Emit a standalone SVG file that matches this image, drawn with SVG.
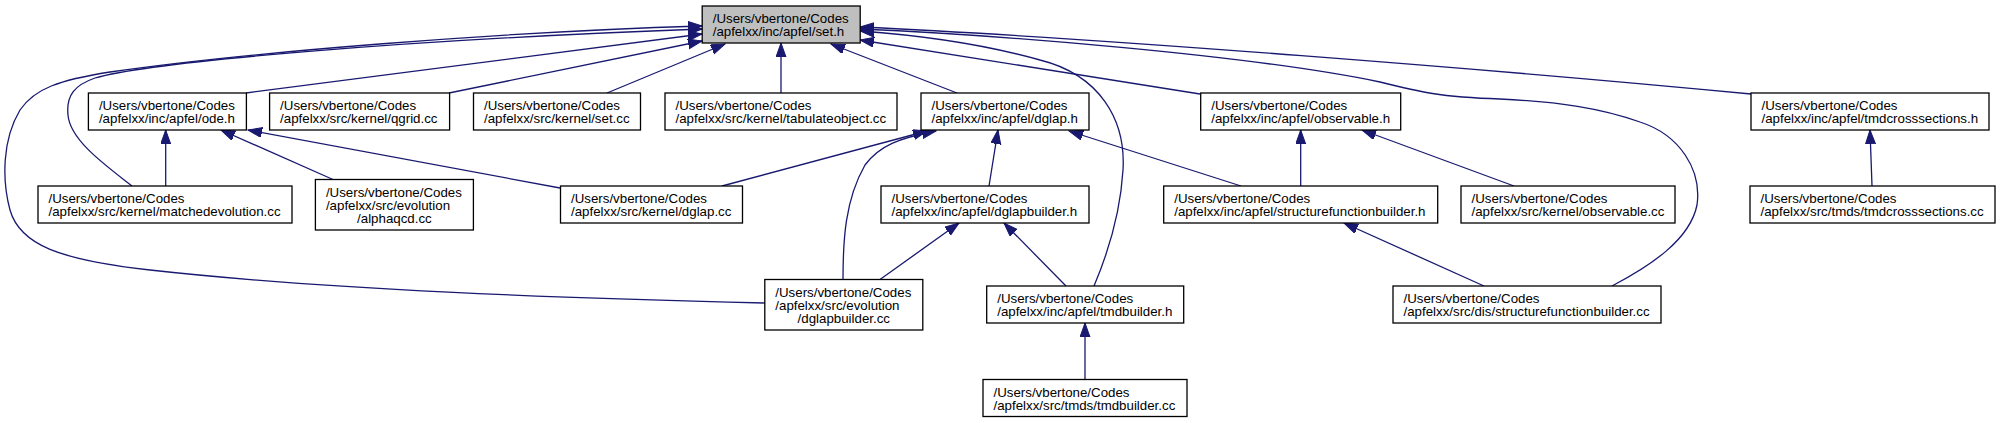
<svg xmlns="http://www.w3.org/2000/svg" width="2002" height="423" viewBox="0 0 2002 423">
<style>
.n rect{fill:#ffffff;stroke:#000000;stroke-width:1.3}
.n.root rect{fill:#bfbfbf}
.n text{font-family:"Liberation Sans",Arial,Helvetica,sans-serif;font-size:13.3px;fill:#000000}
.n text.c{text-anchor:middle}
#edges path{fill:none;stroke:#191970;stroke-width:1.3;marker-end:url(#arr)}
</style>
<defs>
<marker id="arr" markerUnits="userSpaceOnUse" markerWidth="15" markerHeight="11" refX="14" refY="5" orient="auto">
<path d="M0,0 L14,5 L0,10 Z" fill="#191970" stroke="#191970" stroke-width="1"/>
</marker>
</defs>
<rect width="2002" height="423" fill="#ffffff"/>
<g id="edges">
<path d="M246,93 L702,34"/>
<path d="M449,93 L702,41"/>
<path d="M607,93 L725,44"/>
<path d="M781,93 L781,43"/>
<path d="M957,93 L831,44"/>
<path d="M1200,94 L860,40"/>
<path d="M1751,94 C1500,70 1100,38 860,27"/>
<path d="M1612,286 C1650,266 1690,240 1697,205 C1702,170 1680,135 1640,122 C1600,108 1560,102 1500,99 C1440,97 1420,92 1380,82 C1250,55 1000,35 860,29"/>
<path d="M1094,286 C1105,260 1120,220 1123,170 C1126,120 1100,75 1040,60 C990,46 930,36 860,31"/>
<path d="M132,186 C105,165 70,140 68,115 C66,95 75,85 95,78 C150,62 400,40 702,29"/>
<path d="M765,303 C560,298 330,290 150,270 C60,260 20,245 10,210 C2,180 2,140 20,110 C35,88 60,80 110,72 C250,52 500,32 702,26"/>
<path d="M165.7,186 L165.7,130"/>
<path d="M333,179.5 L221,130"/>
<path d="M560,188 L248,130"/>
<path d="M722,186 L927,131"/>
<path d="M843,279.5 C843,240 845,200 865,165 C880,145 900,138 936,131"/>
<path d="M989,186 L998,130"/>
<path d="M1241,186 L1069,131"/>
<path d="M1300.7,186 L1300.7,130"/>
<path d="M1514,186 L1362,130"/>
<path d="M1872,186 L1870,130"/>
<path d="M880,279.5 L959,223"/>
<path d="M1066,286 L1004,223"/>
<path d="M1484,286 L1344,223"/>
<path d="M1085,379.5 L1085,323"/>
</g>
<g id="n_set_h" class="n root"><rect x="702.2" y="6" width="158" height="37"/><text x="712.7" y="23.2">/Users/vbertone/Codes</text><text x="712.7" y="36.2">/apfelxx/inc/apfel/set.h</text></g>
<g id="n_ode_h" class="n"><rect x="88.4" y="93" width="158" height="37"/><text x="98.9" y="110.2">/Users/vbertone/Codes</text><text x="98.9" y="123.2">/apfelxx/inc/apfel/ode.h</text></g>
<g id="n_qgrid_cc" class="n"><rect x="269.6" y="93" width="180" height="37"/><text x="280.1" y="110.2">/Users/vbertone/Codes</text><text x="280.1" y="123.2">/apfelxx/src/kernel/qgrid.cc</text></g>
<g id="n_set_cc" class="n"><rect x="473.5" y="93" width="167" height="37"/><text x="484" y="110.2">/Users/vbertone/Codes</text><text x="484" y="123.2">/apfelxx/src/kernel/set.cc</text></g>
<g id="n_tabulateobject_cc" class="n"><rect x="665" y="93" width="232" height="37"/><text x="675.5" y="110.2">/Users/vbertone/Codes</text><text x="675.5" y="123.2">/apfelxx/src/kernel/tabulateobject.cc</text></g>
<g id="n_dglap_h" class="n"><rect x="921" y="93" width="168" height="37"/><text x="931.5" y="110.2">/Users/vbertone/Codes</text><text x="931.5" y="123.2">/apfelxx/inc/apfel/dglap.h</text></g>
<g id="n_observable_h" class="n"><rect x="1200.7" y="93" width="200" height="37"/><text x="1211.2" y="110.2">/Users/vbertone/Codes</text><text x="1211.2" y="123.2">/apfelxx/inc/apfel/observable.h</text></g>
<g id="n_tmdcrosssections_h" class="n"><rect x="1751" y="93" width="238" height="37"/><text x="1761.5" y="110.2">/Users/vbertone/Codes</text><text x="1761.5" y="123.2">/apfelxx/inc/apfel/tmdcrosssections.h</text></g>
<g id="n_matchedevolution_cc" class="n"><rect x="38" y="186" width="254" height="37"/><text x="48.5" y="203.2">/Users/vbertone/Codes</text><text x="48.5" y="216.2">/apfelxx/src/kernel/matchedevolution.cc</text></g>
<g id="n_alphaqcd_cc" class="n"><rect x="315.4" y="179.5" width="158" height="50.5"/><text x="325.9" y="196.7">/Users/vbertone/Codes</text><text x="325.9" y="209.7">/apfelxx/src/evolution</text><text class="c" x="394.4" y="222.7">/alphaqcd.cc</text></g>
<g id="n_dglap_cc" class="n"><rect x="560.5" y="186" width="182" height="37"/><text x="571" y="203.2">/Users/vbertone/Codes</text><text x="571" y="216.2">/apfelxx/src/kernel/dglap.cc</text></g>
<g id="n_dglapbuilder_h" class="n"><rect x="881" y="186" width="208" height="37"/><text x="891.5" y="203.2">/Users/vbertone/Codes</text><text x="891.5" y="216.2">/apfelxx/inc/apfel/dglapbuilder.h</text></g>
<g id="n_structurefunctionbuilder_h" class="n"><rect x="1163.7" y="186" width="274" height="37"/><text x="1174.2" y="203.2">/Users/vbertone/Codes</text><text x="1174.2" y="216.2">/apfelxx/inc/apfel/structurefunctionbuilder.h</text></g>
<g id="n_observable_cc" class="n"><rect x="1461" y="186" width="214" height="37"/><text x="1471.5" y="203.2">/Users/vbertone/Codes</text><text x="1471.5" y="216.2">/apfelxx/src/kernel/observable.cc</text></g>
<g id="n_tmdcrosssections_cc" class="n"><rect x="1750" y="186" width="245" height="37"/><text x="1760.5" y="203.2">/Users/vbertone/Codes</text><text x="1760.5" y="216.2">/apfelxx/src/tmds/tmdcrosssections.cc</text></g>
<g id="n_dglapbuilder_cc" class="n"><rect x="764.8" y="279.5" width="158" height="50.5"/><text x="775.3" y="296.7">/Users/vbertone/Codes</text><text x="775.3" y="309.7">/apfelxx/src/evolution</text><text class="c" x="843.8" y="322.7">/dglapbuilder.cc</text></g>
<g id="n_tmdbuilder_h" class="n"><rect x="986.7" y="286" width="197" height="37"/><text x="997.2" y="303.2">/Users/vbertone/Codes</text><text x="997.2" y="316.2">/apfelxx/inc/apfel/tmdbuilder.h</text></g>
<g id="n_structurefunctionbuilder_cc" class="n"><rect x="1393" y="286" width="268" height="37"/><text x="1403.5" y="303.2">/Users/vbertone/Codes</text><text x="1403.5" y="316.2">/apfelxx/src/dis/structurefunctionbuilder.cc</text></g>
<g id="n_tmdbuilder_cc" class="n"><rect x="983" y="379.5" width="204" height="37"/><text x="993.5" y="396.7">/Users/vbertone/Codes</text><text x="993.5" y="409.7">/apfelxx/src/tmds/tmdbuilder.cc</text></g>
</svg>
